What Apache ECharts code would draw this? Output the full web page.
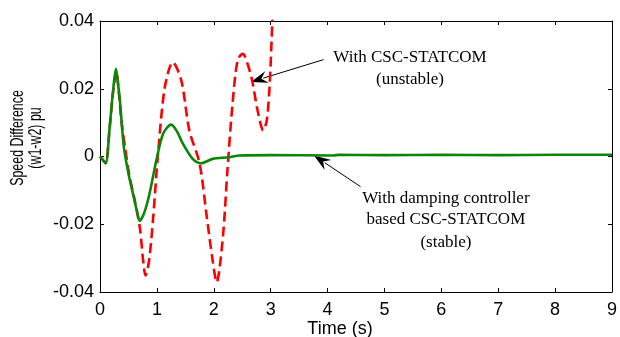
<!DOCTYPE html>
<html>
<head>
<meta charset="utf-8">
<script src="https://cdn.jsdelivr.net/npm/echarts@6.0.0/dist/echarts.min.js"></script>
<style>
  html, body { margin: 0; padding: 0; background: #fff; }
  #main { width: 620px; height: 337px; }
</style>
</head>
<body>
<div id="main"></div>
<script>
// time axis (s) and speed difference (pu)
var tStable = [0, 0.05, 0.1, 0.17, 0.23, 0.28, 0.32, 0.35, 0.42, 0.5, 0.58, 0.64, 0.7, 0.78, 0.87, 0.99, 1.11, 1.25, 1.35, 1.46, 1.63, 1.78, 1.98, 2.27, 2.45, 3, 4.1, 4.2, 5, 6, 7, 8, 9];
var wStable = [0, -0.001, -0.002, 0.0087, 0.0195, 0.0259, 0.021, 0.0165, 0.0027, -0.005, -0.011, -0.0155, -0.019, -0.0165, -0.011, -0.0012, 0.0067, 0.0094, 0.0075, 0.0037, -0.0007, -0.002, -0.0007, -0.0002, 0.0003, 0.0004, 0.0003, 0.0005, 0.0004, 0.0005, 0.0004, 0.0005, 0.0005];

var tUnstable = [0, 0.05, 0.1, 0.17, 0.23, 0.29, 0.33, 0.38, 0.44, 0.52, 0.6, 0.7, 0.76, 0.8, 0.86, 0.93, 1.02, 1.14, 1.28, 1.43, 1.57, 1.75, 1.87, 1.98, 2.05, 2.16, 2.24, 2.33, 2.42, 2.51, 2.6, 2.68, 2.77, 2.87, 2.93, 2.98, 3.03, 3.08];
var wUnstable = [0, -0.001, -0.002, 0.0085, 0.019, 0.025, 0.019, 0.01, 0.0027, -0.006, -0.012, -0.021, -0.031, -0.0351, -0.031, -0.019, 0.0008, 0.0205, 0.0278, 0.0224, 0.0077, -0.002, -0.0169, -0.0307, -0.0371, -0.0238, -0.0041, 0.0156, 0.0285, 0.0303, 0.027, 0.022, 0.0136, 0.0077, 0.0105, 0.0205, 0.04, 0.06];

var xTicks = [0, 9, 1];
var yTicks = [-0.04, 0.04, 0.02];

function pairs(t, w) {
  return t.map(function (v, i) { return [v, w[i]]; });
}

var chart = echarts.init(document.getElementById('main'));

var tickStyle = { show: true, inside: true, length: 4, lineStyle: { color: '#000', width: 1 } };
var lineStyle = { show: true, onZero: false, lineStyle: { color: '#000', width: 1 } };

chart.setOption({
  animation: false,
  grid: { left: 100, right: 5, top: 21, bottom: 45 },
  xAxis: [
    {
      type: 'value', min: xTicks[0], max: xTicks[1], interval: xTicks[2],
      axisLine: lineStyle, axisTick: tickStyle, splitLine: { show: false },
      axisLabel: { color: '#000', fontFamily: 'Liberation Sans', fontSize: 18, margin: 9 }
    },
    {
      type: 'value', position: 'top', min: xTicks[0], max: xTicks[1], interval: xTicks[2],
      axisLine: lineStyle, axisTick: tickStyle, splitLine: { show: false },
      axisLabel: { show: false }
    }
  ],
  yAxis: [
    {
      type: 'value', min: yTicks[0], max: yTicks[1], interval: yTicks[2],
      axisLine: lineStyle, axisTick: tickStyle, splitLine: { show: false },
      axisLabel: {
        color: '#000', fontFamily: 'Liberation Sans', fontSize: 18, margin: 6,
        formatter: function (v) { return Math.abs(v) < 1e-9 ? '0' : v.toFixed(2); }
      }
    },
    {
      type: 'value', position: 'right', min: yTicks[0], max: yTicks[1], interval: yTicks[2],
      axisLine: lineStyle, axisTick: tickStyle, splitLine: { show: false },
      axisLabel: { show: false }
    }
  ],
  series: [
    {
      name: 'With CSC-STATCOM',
      type: 'line',
      data: pairs(tUnstable, wUnstable),
      showSymbol: false,
      smooth: 0.3,
      clip: true,
      lineStyle: { color: '#ff0000', width: 2.6, type: [10, 5] }
    },
    {
      name: 'With damping controller based CSC-STATCOM',
      type: 'line',
      data: pairs(tStable, wStable),
      showSymbol: false,
      smooth: 0.3,
      clip: true,
      lineStyle: { color: '#0a870a', width: 2.6 }
    }
  ]
});

function px(x, y) {
  return chart.convertToPixel({ xAxisIndex: 0, yAxisIndex: 0 }, [x, y]);
}

// arrow with a notched filled head, from tail to tip
function arrow(tail, tip) {
  var dx = tip[0] - tail[0], dy = tip[1] - tail[1];
  var len = Math.sqrt(dx * dx + dy * dy);
  var ux = dx / len, uy = dy / len;
  var L = 17, W = 12;
  var bx = tip[0] - ux * L, by = tip[1] - uy * L;
  var nx = -uy, ny = ux;
  return [
    { type: 'line', shape: { x1: tail[0], y1: tail[1], x2: bx + ux * 4, y2: by + uy * 4 }, style: { stroke: '#000', lineWidth: 1 } },
    {
      type: 'polygon',
      shape: {
        points: [
          tip,
          [bx + nx * W / 2, by + ny * W / 2],
          [tip[0] - ux * L * 0.65, tip[1] - uy * L * 0.65],
          [bx - nx * W / 2, by - ny * W / 2]
        ]
      },
      style: { fill: '#000' }
    }
  ];
}

function label(text, x, y) {
  var p = px(x, y);
  return {
    type: 'text', x: p[0], y: p[1],
    style: { text: text, fill: '#000', font: '17px "Liberation Serif"', align: 'center', verticalAlign: 'middle' }
  };
}

var g = [];
g = g.concat(arrow(px(3.93, 0.0286), px(2.65, 0.022)));
g = g.concat(arrow(px(4.58, -0.0089), px(3.76, 0.0003)));
g.push(label('With CSC-STATCOM', 5.45, 0.0292));
g.push(label('(unstable)', 5.45, 0.0227));
g.push(label('With damping controller', 6.08, -0.0124));
g.push(label('based CSC-STATCOM', 6.08, -0.0186));
g.push(label('(stable)', 6.08, -0.0254));
g.push({
  type: 'text', x: 340, y: 329,
  style: { text: 'Time (s)', fill: '#000', font: '18px "Liberation Sans"', align: 'center', verticalAlign: 'middle' }
});
g.push({
  type: 'text', x: 27, y: 138, rotation: Math.PI / 2, scaleX: 0.69,
  style: {
    text: 'Speed Difference\n(w1-w2) pu', fill: '#000', font: '18px "Liberation Sans"',
    lineHeight: 18, align: 'center', verticalAlign: 'middle'
  }
});

chart.setOption({ graphic: g });
</script>
</body>
</html>
